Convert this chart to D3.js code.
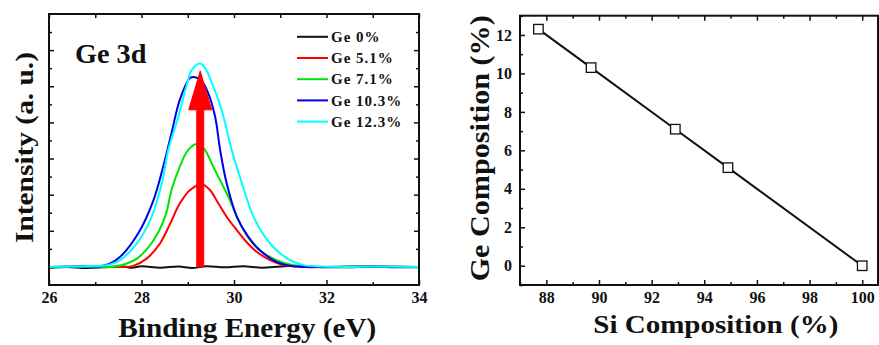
<!DOCTYPE html>
<html>
<head>
<meta charset="utf-8">
<script src="https://cdn.jsdelivr.net/npm/d3@7"></script>
<style>
  body { margin: 0; background: #fff; }
  svg { display: block; }
</style>
</head>
<body>
<svg id="chart" width="879" height="345"></svg>
<script>
// ---- data ----
const energyTicks = [26, 28, 30, 32, 34];
const energyMinor = [27, 29, 31, 33];
const siTicks = [88, 90, 92, 94, 96, 98, 100];
const siMinor = [87, 89, 91, 93, 95, 97, 99];
const geTicks = [0, 2, 4, 6, 8, 10, 12];
const geMinor = [-1, 1, 3, 5, 7, 9, 11, 13];

const legendLabels = ['Ge 0%', 'Ge 5.1%', 'Ge 7.1%', 'Ge 10.3%', 'Ge 12.3%'];
const seriesColors = ['#111111', '#ff0000', '#00e400', '#0000ee', '#00ffff'];

// [binding energy (eV), intensity (a.u.)]
const ge0 = [[26.0,-0.02],[26.4,0.0],[26.8,-0.03],[27.2,-0.01],[27.6,0.01],[27.8,-0.02],[28.0,0.02],
  [28.4,-0.02],[28.8,0.01],[29.1,-0.03],[29.4,0.02],[29.8,-0.01],[30.2,0.02],[30.6,-0.02],
  [31.0,0.01],[31.4,0.03],[31.8,0.0],[32.4,-0.01],[33.0,0.01],[33.5,-0.01],[34.0,0.0]];
const ge51 = [[26.0,0.0],[27.0,0.0],[27.6,0.0],[27.82,0.03],[28.11,0.23],[28.40,0.65],[28.62,1.20],
  [28.83,1.76],[29.05,2.13],[29.30,2.29],[29.48,2.13],[29.66,1.76],[29.84,1.39],[30.06,1.02],
  [30.27,0.69],[30.49,0.42],[30.78,0.19],[31.07,0.05],[31.5,0.0],[33.0,0.01],[34.0,0.0]];
const ge71 = [[26.0,0.0],[26.8,0.01],[27.3,0.0],[27.54,0.04],[27.90,0.23],[28.26,0.74],[28.51,1.39],
  [28.65,2.13],[28.83,2.78],[29.01,3.24],[29.22,3.41],[29.37,3.24],[29.55,2.78],[29.73,2.32],
  [29.91,1.85],[30.13,1.20],[30.35,0.74],[30.60,0.42],[30.92,0.19],[31.28,0.05],[31.7,0.0],
  [32.5,0.01],[34.0,0.0]];
const ge103 = [[26.0,0.0],[26.5,0.01],[27.1,0.02],[27.3,0.08],[27.54,0.28],[27.93,0.93],[28.26,1.85],
  [28.47,2.78],[28.65,3.71],[28.83,4.63],[29.05,5.23],[29.16,5.25],[29.30,5.15],[29.44,4.82],
  [29.59,4.17],[29.70,3.24],[29.84,2.32],[30.06,1.39],[30.31,0.83],[30.56,0.46],[30.92,0.14],
  [31.28,0.02],[32.0,0.0],[33.0,0.01],[34.0,0.0]];
const ge123 = [[26.0,0.0],[26.5,0.01],[27.0,0.02],[27.3,0.06],[27.54,0.19],[27.9,0.65],[28.22,1.39],
  [28.44,2.32],[28.58,3.24],[28.80,4.17],[28.99,5.09],[29.09,5.46],[29.27,5.63],[29.40,5.45],
  [29.52,5.09],[29.66,4.63],[29.77,4.17],[29.95,3.24],[30.17,2.32],[30.42,1.39],[30.67,0.83],
  [30.92,0.46],[31.21,0.19],[31.5,0.05],[31.9,0.01],[32.5,0.0],[33.0,0.01],[34.0,0.0]];
const spectra = [ge0, ge51, ge71, ge103, ge123];

const arrowEnergy = 29.27;
const arrowFrom = 0;
const arrowTo = 5.42;
const arrowHeadBase = 4.35;

const siComp = [87.7, 89.7, 92.9, 94.9, 100];
const geComp = [12.3, 10.3, 7.1, 5.1, 0];

// ---- layout ----
const FONT = 'Liberation Serif';
const svg = d3.select('#chart');
const left = { x0: 49, x1: 419, y0: 14, y1: 285 };
const right = { x0: 520, x1: 878, y0: 15.7, y1: 285 };

const xL = d3.scaleLinear().domain([26, 34]).range([left.x0, left.x1]);
const yL = d3.scaleLinear().domain([-0.5, 7]).range([left.y1, left.y0]);
const xR = d3.scaleLinear().domain([87, 100.6]).range([right.x0, right.x1]);
const yR = d3.scaleLinear().domain([-1, 13]).range([right.y1, right.y0]);

function label(sel, size) {
  return sel.style('font-family', FONT).style('font-weight', 'bold')
    .style('font-size', size + 'px').attr('fill', '#111');
}

// the source figure is a bit stretched sideways, so titles get their measured length
function stretch(sel, len) {
  return sel.attr('textLength', len).attr('lengthAdjust', 'spacingAndGlyphs');
}

function tidy(g) {
  g.attr('font-family', null).attr('font-size', null);
  g.select('.domain').remove();
  g.selectAll('.tick line').attr('stroke', '#111').attr('stroke-width', 1.5);
  g.selectAll('.tick text').call(label, 16);
}

/* ---------- left panel: Ge 3d spectra ---------- */
const gL = svg.append('g');

gL.append('g').attr('transform', `translate(0,${left.y1})`)
  .call(d3.axisBottom(xL).tickValues(energyTicks).tickSizeInner(-5).tickSizeOuter(0).tickPadding(7))
  .call(tidy);
gL.append('g').attr('transform', `translate(0,${left.y1})`)
  .call(d3.axisBottom(xL).tickValues(energyMinor).tickSizeInner(-3).tickSizeOuter(0).tickFormat(''))
  .call(tidy);
gL.append('g').attr('transform', `translate(0,${left.y0})`)
  .call(d3.axisTop(xL).tickValues(energyTicks.concat(energyMinor)).tickSizeInner(-4).tickSizeOuter(0).tickFormat(''))
  .call(tidy);

const iMajor = [0, 1, 2, 3, 4, 5, 6];
const iMinor = [0.5, 1.5, 2.5, 3.5, 4.5, 5.5, 6.5];
[[d3.axisLeft, left.x0], [d3.axisRight, left.x1]].forEach(([ax, x]) => {
  gL.append('g').attr('transform', `translate(${x},0)`)
    .call(ax(yL).tickValues(iMajor).tickSizeInner(-5).tickSizeOuter(0).tickFormat(''))
    .call(tidy);
  gL.append('g').attr('transform', `translate(${x},0)`)
    .call(ax(yL).tickValues(iMinor).tickSizeInner(-3).tickSizeOuter(0).tickFormat(''))
    .call(tidy);
});

const lineL = d3.line().x(d => xL(d[0])).y(d => yL(d[1])).curve(d3.curveCatmullRom.alpha(0.5));
gL.append('g').selectAll('path')
  .data(spectra)
  .enter()
  .append('path')
  .attr('d', lineL)
  .attr('fill', 'none')
  .attr('stroke', (d, i) => seriesColors[i])
  .attr('stroke-width', 2);

// red arrow
const ax0 = xL(arrowEnergy);
const shaftW = 3.5, headW = 11.5;
const arrowPts = [
  [ax0 - shaftW, yL(arrowFrom)], [ax0 - shaftW, yL(arrowHeadBase)], [ax0 - headW, yL(arrowHeadBase)],
  [ax0, yL(arrowTo)],
  [ax0 + headW, yL(arrowHeadBase)], [ax0 + shaftW, yL(arrowHeadBase)], [ax0 + shaftW, yL(arrowFrom)]
];
gL.append('path')
  .attr('d', d3.line()(arrowPts) + 'Z')
  .attr('fill', '#ff0000')
  .attr('stroke', '#ff0000')
  .attr('stroke-width', 1)
  .attr('stroke-linejoin', 'round');

gL.append('rect')
  .attr('x', left.x0).attr('y', left.y0)
  .attr('width', left.x1 - left.x0).attr('height', left.y1 - left.y0)
  .attr('fill', 'none').attr('stroke', '#111').attr('stroke-width', 2);

// legend
const legend = gL.append('g').selectAll('g')
  .data(legendLabels)
  .enter()
  .append('g')
  .attr('transform', (d, i) => `translate(297,${36.8 + i * 21.2})`);
legend.append('line')
  .attr('x1', 0).attr('x2', 31)
  .attr('stroke', (d, i) => seriesColors[i])
  .attr('stroke-width', 2);
legend.append('text')
  .attr('x', 34).attr('dy', '0.35em')
  .call(label, 15)
  .style('letter-spacing', '1px')
  .text(d => d);

gL.append('text')
  .attr('x', 75).attr('y', 62.5)
  .call(label, 27)
  .call(stretch, 71.5)
  .text('Ge 3d');

gL.append('text')
  .attr('transform', 'translate(32.5,147.5) rotate(-90)')
  .attr('text-anchor', 'middle')
  .call(label, 26)
  .call(stretch, 191)
  .text('Intensity (a. u.)');

gL.append('text')
  .attr('x', 247.3).attr('y', 337)
  .attr('text-anchor', 'middle')
  .call(label, 27)
  .call(stretch, 258)
  .text('Binding Energy (eV)');

/* ---------- right panel: Ge vs Si composition ---------- */
const gR = svg.append('g');

gR.append('g').attr('transform', `translate(0,${right.y1})`)
  .call(d3.axisBottom(xR).tickValues(siTicks).tickSizeInner(-5).tickSizeOuter(0).tickPadding(7))
  .call(tidy);
gR.append('g').attr('transform', `translate(0,${right.y1})`)
  .call(d3.axisBottom(xR).tickValues(siMinor).tickSizeInner(-3).tickSizeOuter(0).tickFormat(''))
  .call(tidy);
gR.append('g').attr('transform', `translate(0,${right.y0})`)
  .call(d3.axisTop(xR).tickValues(siTicks).tickSizeInner(-5).tickSizeOuter(0).tickFormat(''))
  .call(tidy);
gR.append('g').attr('transform', `translate(0,${right.y0})`)
  .call(d3.axisTop(xR).tickValues(siMinor).tickSizeInner(-3).tickSizeOuter(0).tickFormat(''))
  .call(tidy);
gR.append('g').attr('transform', `translate(${right.x0},0)`)
  .call(d3.axisLeft(yR).tickValues(geTicks).tickSizeInner(-5).tickSizeOuter(0).tickPadding(8))
  .call(tidy);
gR.append('g').attr('transform', `translate(${right.x0},0)`)
  .call(d3.axisLeft(yR).tickValues(geMinor).tickSizeInner(-3).tickSizeOuter(0).tickFormat(''))
  .call(tidy);

const compData = siComp.map((s, i) => [s, geComp[i]]);
gR.append('path')
  .datum(compData)
  .attr('d', d3.line().x(d => xR(d[0])).y(d => yR(d[1])))
  .attr('fill', 'none')
  .attr('stroke', '#111')
  .attr('stroke-width', 2);

const sq = 9.5;
gR.append('g').selectAll('rect')
  .data(compData)
  .enter()
  .append('rect')
  .attr('x', d => xR(d[0]) - sq / 2)
  .attr('y', d => yR(d[1]) - sq / 2)
  .attr('width', sq).attr('height', sq)
  .attr('fill', '#fff')
  .attr('stroke', '#111')
  .attr('stroke-width', 1.3);

gR.append('rect')
  .attr('x', right.x0).attr('y', right.y0)
  .attr('width', right.x1 - right.x0).attr('height', right.y1 - right.y0)
  .attr('fill', 'none').attr('stroke', '#111').attr('stroke-width', 2);

gR.append('text')
  .attr('transform', 'translate(489,148.3) rotate(-90)')
  .attr('text-anchor', 'middle')
  .call(label, 27)
  .call(stretch, 266)
  .text('Ge Composition (%)');

gR.append('text')
  .attr('x', 715.8).attr('y', 333)
  .attr('text-anchor', 'middle')
  .call(label, 26)
  .call(stretch, 245)
  .text('Si Composition (%)');
</script>
</body>
</html>
